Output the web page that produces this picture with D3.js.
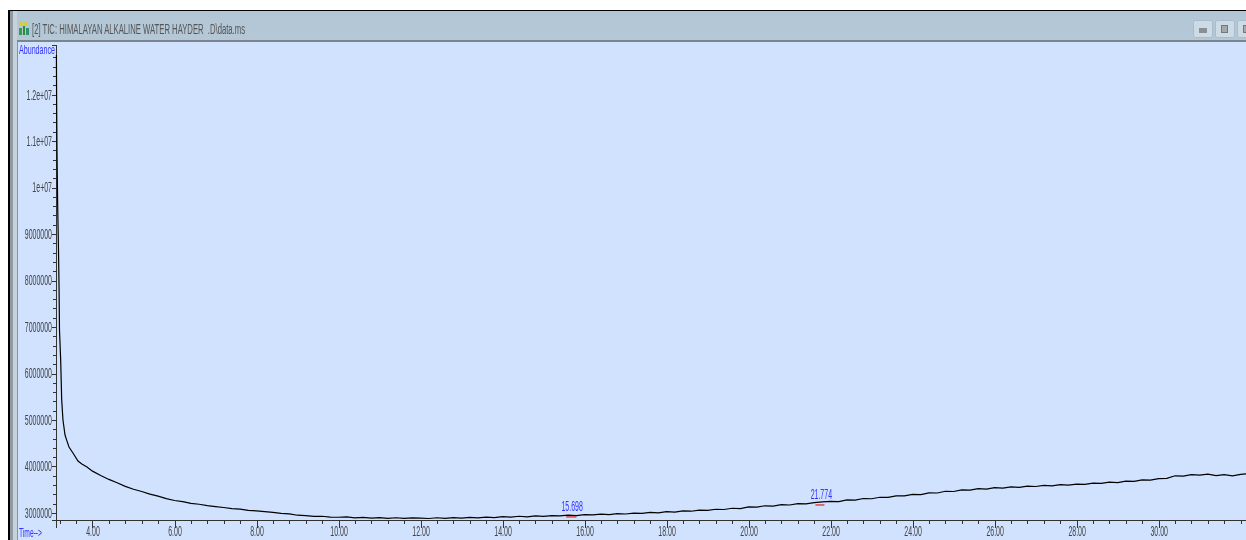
<!DOCTYPE html>
<html lang="en">
<head>
<meta charset="UTF-8">
<title>TIC</title>
<style>
    html, body { margin: 0; padding: 0; background: #fff; overflow: hidden; }
    svg { display: block; filter: blur(0.4px); }
    text { font-family: "Liberation Sans", sans-serif; }
    .axis path, .axis line { stroke: #333; fill: none; shape-rendering: crispEdges; }
    .axis text { fill: #444; font-size: 14px; }
    .blue { fill: #3333ff; }
</style>
</head>
<body>
<svg id="chart" width="1246" height="540"></svg>
<script src="https://cdn.jsdelivr.net/npm/d3@7"></script>
<script>
    var title = "[2] TIC: HIMALAYAN ALKALINE WATER HAYDER  .D\\data.ms"
    var retention = [3.12,3.125,3.134,3.15,3.17,3.185,3.195,3.224,3.249,3.28,3.33,3.38,3.427,3.524,3.646,3.75,3.866,
        4.0,4.2,4.4,4.6,4.8,5.0,5.2,5.4,5.6,5.8,6.0,6.2,6.4,6.6,6.8,7.0,7.2,7.4,7.6,7.8,8.0,
        8.2,8.4,8.6,8.8,9.0,9.2,9.4,9.6,9.8,10.0,10.2,10.4,10.6,10.8,11.0,11.2,11.4,11.6,11.8,12.0,
        12.2,12.4,12.6,12.8,13.0,13.2,13.4,13.6,13.8,14.0,14.2,14.4,14.6,14.8,15.0,15.2,15.4,15.6,15.8,16.0,
        16.2,16.4,16.6,16.8,17.0,17.2,17.4,17.6,17.8,18.0,18.2,18.4,18.6,18.8,19.0,19.2,19.4,19.6,19.8,20.0,
        20.2,20.4,20.6,20.8,21.0,21.2,21.4,21.6,21.8,22.0,22.2,22.4,22.6,22.8,23.0,23.2,23.4,23.6,23.8,24.0,
        24.2,24.4,24.6,24.8,25.0,25.2,25.4,25.6,25.8,26.0,26.2,26.4,26.6,26.8,27.0,27.2,27.4,27.6,27.8,28.0,
        28.2,28.4,28.6,28.8,29.0,29.2,29.4,29.6,29.8,30.0,30.2,30.4,30.6,30.8,31.0,31.2,31.4,31.6,31.8,32.0,32.13]
    var abundance = [12850000,11880000,10810000,9645000,8700000,7800000,6935000,6290000,5430000,5000000,4677000,4540000,4420000,4290000,4118000,4050000,3990000,
        3900000,3805000,3722000,3650000,3572000,3510000,3462000,3405000,3362000,3310000,3268000,3245000,3205000,3188000,3160000,3138000,3118000,3092000,3082000,3055000,3045000,
        3028000,3012000,2992000,2982000,2952000,2945000,2928000,2930000,2912000,2908000,2915000,2896000,2905000,2890000,2900000,2884000,2898000,2886000,2895000,2890000,
        2882000,2898000,2886000,2902000,2890000,2905000,2895000,2912000,2902000,2920000,2912000,2930000,2918000,2938000,2928000,2945000,2936000,2952000,2944000,2965000,
        2958000,2975000,2966000,2985000,2978000,2998000,2990000,3012000,3004000,3028000,3020000,3045000,3038000,3062000,3056000,3080000,3075000,3102000,3095000,3130000,
        3125000,3155000,3148000,3178000,3172000,3202000,3198000,3222000,3238000,3250000,3246000,3282000,3276000,3312000,3306000,3338000,3335000,3368000,3370000,3400000,
        3395000,3432000,3430000,3468000,3462000,3498000,3492000,3522000,3515000,3545000,3535000,3562000,3552000,3578000,3570000,3595000,3585000,3608000,3598000,3622000,
        3615000,3642000,3635000,3662000,3655000,3685000,3680000,3712000,3706000,3740000,3745000,3800000,3795000,3825000,3815000,3835000,3805000,3825000,3798000,3830000,3842000]
    var peakTimes = [15.698, 21.774]
    var peakLabels = ["15.698", "21.774"]
    var peakStart = [15.55, 21.63]
    var peakEnd = [15.80, 21.85]
    var peakBase = [2948000, 3205000]
    var xTicks = [4,6,8,10,12,14,16,18,20,22,24,26,28,30]
    var yTicks = [3000000,4000000,5000000,6000000,7000000,8000000,9000000,10000000,11000000,12000000]

    var svg = d3.select("#chart")

    // window frame
    var defs = svg.append("defs")
    var grad = defs.append("linearGradient").attr("id","bar").attr("x1",0).attr("y1",0).attr("x2",0).attr("y2",1)
    grad.append("stop").attr("offset",0).attr("stop-color","#b2c6d6")
    grad.append("stop").attr("offset",1).attr("stop-color","#dbe6f0")

    svg.append("rect").attr("x",8).attr("y",10).attr("width",1238).attr("height",530).attr("fill","#000")
    svg.append("rect").attr("x",10).attr("y",11).attr("width",1236).attr("height",529).attr("fill","url(#bar)")
    svg.append("rect").attr("x",10).attr("y",11).attr("width",3).attr("height",529).attr("fill","#8f9aa3")
    svg.append("rect").attr("x",13).attr("y",11).attr("width",4).attr("height",529).attr("fill","#c6d3dd")
    svg.append("rect").attr("x",17).attr("y",40).attr("width",1229).attr("height",2).attr("fill","#7d858c")
    svg.append("rect").attr("x",17).attr("y",42).attr("width",1).attr("height",498).attr("fill","#8b9299")
    svg.append("rect").attr("x",18).attr("y",42).attr("width",1228).attr("height",498).attr("fill","#d0e2fe")

    // title
    svg.append("text").attr("x",32).attr("y",34).attr("fill","#555").style("font-size","14px")
        .style("white-space","pre").attr("textLength",213).attr("lengthAdjust","spacingAndGlyphs").text(title)

    // little icon in the title bar
    var icon = svg.append("g")
    icon.append("circle").attr("cx",21).attr("cy",24).attr("r",2).attr("fill","#d8d020")
    icon.append("circle").attr("cx",26).attr("cy",24).attr("r",2).attr("fill","#d8d020")
    icon.append("rect").attr("x",23).attr("y",26).attr("width",2).attr("height",9).attr("fill","#2e8b3a")
    icon.append("rect").attr("x",19).attr("y",28).attr("width",3).attr("height",7).attr("fill","#3a9a48")
    icon.append("rect").attr("x",26).attr("y",28).attr("width",3).attr("height",7).attr("fill","#2f8f70")

    // window buttons
    var btnX = [1193, 1215, 1237]
    btnX.forEach(function (bx, i) {
        svg.append("rect").attr("x",bx+0.5).attr("y",20.5).attr("width",19).attr("height",17).attr("rx",2)
            .attr("fill","#cddbe7").attr("stroke","#a9bbcc")
        if (i == 0) {
            svg.append("rect").attr("x",bx+6).attr("y",28).attr("width",8).attr("height",5).attr("fill","#8a8f94")
        } else {
            svg.append("rect").attr("x",bx+6.5).attr("y",25.5).attr("width",6).attr("height",7).attr("fill","#a5a8ab").attr("stroke","#777")
        }
    })

    // scales
    var x = d3.scaleLinear().domain([3.11, 32.13]).range([56, 1246])
    var y = d3.scaleLinear().domain([2860000, 13065000]).range([519.5, 45])

    function yFormat(d) {
        if (d >= 10000000) return d3.format(".2~e")(d).replace("e+", "e+0")
        return String(d)
    }

    // condensed look of the original labels
    function squeeze(sel, k) {
        sel.each(function () {
            var w = this.getComputedTextLength()
            d3.select(this).attr("textLength", w * k).attr("lengthAdjust", "spacingAndGlyphs")
        })
    }

    // minor ticks
    svg.append("g").attr("class","axis").attr("transform","translate(56,0)")
        .call(d3.axisLeft(y).tickValues(d3.range(3000000, 12900000, 200000)).tickSize(3).tickFormat(""))
    svg.append("g").attr("class","axis").attr("transform","translate(0,519.5)")
        .call(d3.axisBottom(x).tickValues(d3.range(3.2, 32.1, 0.4)).tickSize(4).tickFormat(""))

    // major ticks
    var yAxis = svg.append("g").attr("class","axis").attr("transform","translate(56,0)")
        .call(d3.axisLeft(y).tickValues(yTicks).tickSize(4).tickPadding(0).tickFormat(yFormat))
    yAxis.selectAll("text").call(squeeze, 0.5)

    var xAxis = svg.append("g").attr("class","axis").attr("transform","translate(0,519.5)")
        .call(d3.axisBottom(x).tickValues(xTicks).tickSize(8).tickPadding(0).tickFormat(d3.format(".2f")))
    xAxis.selectAll("text").attr("dy","0.62em").call(squeeze, 0.5)

    // axis names
    svg.append("text").attr("class","blue").attr("x",19).attr("y",54).style("font-size","13px")
        .attr("textLength",36).attr("lengthAdjust","spacingAndGlyphs").text("Abundance")
    svg.append("text").attr("class","blue").attr("x",19).attr("y",537).style("font-size","13px")
        .attr("textLength",23).attr("lengthAdjust","spacingAndGlyphs").text("Time-->")

    // trace
    var line = d3.line()
        .x(function (d, i) { return x(retention[i]) })
        .y(function (d) { return y(d) })
    svg.append("path").datum(abundance)
        .attr("d", line)
        .attr("fill","none")
        .attr("stroke","#000")
        .attr("stroke-width",1.2)

    // integrated peaks
    svg.selectAll(".peak").data(peakTimes).enter().append("line")
        .attr("class","peak")
        .attr("x1", function (d, i) { return x(peakStart[i]) })
        .attr("x2", function (d, i) { return x(peakEnd[i]) })
        .attr("y1", function (d, i) { return y(peakBase[i]) + 1.5 })
        .attr("y2", function (d, i) { return y(peakBase[i]) + 1.5 })
        .attr("stroke","#e02020")
        .attr("stroke-width",1.2)

    svg.selectAll(".peakLabel").data(peakTimes).enter().append("text")
        .attr("class","peakLabel blue")
        .attr("x", function (d) { return x(d) })
        .attr("y", function (d, i) { return y(peakBase[i]) - 4 })
        .attr("text-anchor","middle")
        .style("font-size","14px")
        .text(function (d, i) { return peakLabels[i] })
        .call(squeeze, 0.5)
</script>
</body>
</html>
